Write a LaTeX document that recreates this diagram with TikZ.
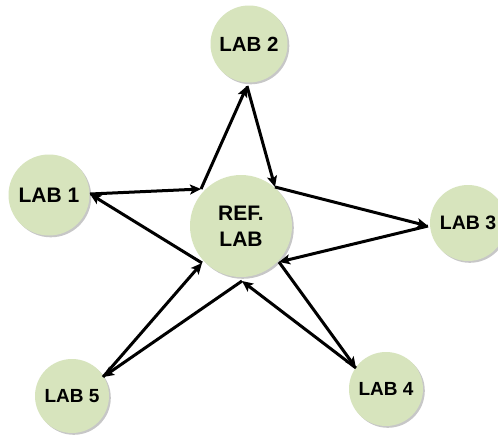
\documentclass[tikz,border=0pt]{standalone}
\usepackage{fontspec}
\setmainfont{Liberation Sans}
\usetikzlibrary{arrows.meta,shadows}
\definecolor{labfill}{HTML}{D7E4BD}
\begin{document}
\begin{tikzpicture}[x=1pt,y=-1pt,
  lab/.style={circle, fill=labfill, inner sep=0pt, align=center,
    drop shadow={shadow xshift=1.8pt, shadow yshift=-1.8pt, fill=black, opacity=0.22}},
  link/.style={line width=3pt, -{Stealth[length=11pt,width=10pt,inset=2.5pt]}}]
\useasboundingbox (0,0) rectangle (498,437);
\fill[white] (0,0) rectangle (498,437);
% nodes
\node[lab, minimum size=102pt, font=\bfseries\fontsize{21}{26}\selectfont] (ref) at (241,226) {REF.\\LAB};
\node[lab, minimum size=81pt, font=\bfseries\fontsize{21}{24}\selectfont] (lab1) at (49,195) {LAB 1};
\node[lab, minimum size=77pt, font=\bfseries\fontsize{20.5}{24}\selectfont] (lab2) at (249,44) {LAB 2};
\node[lab, minimum size=76pt, font=\bfseries\fontsize{19.5}{24}\selectfont] (lab3) at (468,223) {LAB 3};
\node[lab, minimum size=74pt, font=\bfseries\fontsize{19}{24}\selectfont] (lab4) at (386,389) {LAB 4};
\node[lab, minimum size=74pt, font=\bfseries\fontsize{19}{24}\selectfont] (lab5) at (72,396) {LAB 5};
% connector points
\coordinate (p1) at (201,189);
\coordinate (p2) at (275,187);
\coordinate (p3) at (279,262);
\coordinate (p4) at (202,263);
\coordinate (p5) at (242,281);
\coordinate (o1) at (90,194);
\coordinate (o2) at (247,86);
\coordinate (o3) at (428,226);
\coordinate (o4) at (356,368);
\coordinate (o5) at (103,377);
% connectors
\draw[link] (p1) -- (o2);
\draw[link] (o2) -- (p2);
\draw[link] (p2) -- (o3);
\draw[link] (o3) -- (p3);
\draw[link] (p3) -- (o4);
\draw[link] (o4) -- (p5);
\draw[link] (p5) -- (o5);
\draw[link] (o5) -- (p4);
\draw[link] (p4) -- (o1);
\draw[link] (o1) -- (p1);
\end{tikzpicture}
\end{document}
